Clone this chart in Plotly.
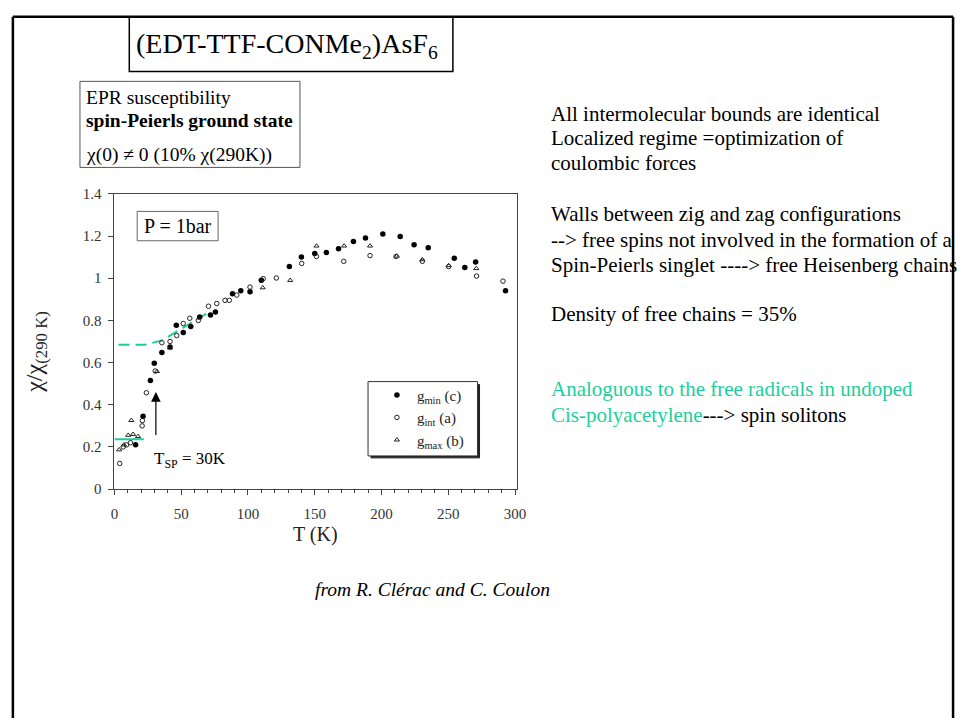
import plotly.graph_objects as go

W, H = 967, 726

# ---- data ----
T_min = [15.8, 21.4, 26.9, 29.8, 35.5, 41.6, 46.3, 51.5, 57.1, 63.8, 71.9, 75.6, 88.4, 94.6,
         101.5, 110, 131, 140, 150, 158.7, 167.8, 179, 188, 201, 214, 224.4, 235, 254.5,
         262.4, 270.5, 292.9]
chi_min = [0.21, 0.346, 0.515, 0.597, 0.648, 0.674, 0.777, 0.742, 0.771, 0.816, 0.825, 0.84,
           0.926, 0.94, 0.936, 0.99, 1.055, 1.10, 1.117, 1.122, 1.14, 1.174, 1.19, 1.21, 1.198,
           1.158, 1.144, 1.094, 1.051, 1.077, 0.941]

T_int = [3.9, 6.5, 9.0, 12.0, 20.7, 20.9, 23.9, 30.5, 35.5, 41.6, 46.6, 51.5, 56.4, 62.8,
         70.4, 76.6, 82.8, 86, 91.6, 101.5, 111.4, 121.2, 140.2, 151.3, 171.7, 191.4, 210.9,
         230.6, 250.3, 271.2, 291]
chi_int = [0.122, 0.20, 0.21, 0.22, 0.30, 0.325, 0.457, 0.56, 0.694, 0.70, 0.728, 0.785, 0.81,
           0.80, 0.867, 0.88, 0.895, 0.895, 0.92, 0.958, 0.998, 1.001, 1.07, 1.103, 1.08, 1.107,
           1.103, 1.08, 1.055, 1.01, 0.986]

T_max = [3.5, 7.0, 10.3, 12.6, 13.9, 17.6, 31.8, 41.6, 111, 131.6, 151.3, 172, 191.4, 211.5,
         230.6, 250.3, 271]
chi_max = [0.187, 0.21, 0.256, 0.326, 0.26, 0.25, 0.558, 0.67, 0.955, 0.99, 1.153, 1.153,
           1.153, 1.105, 1.088, 1.06, 1.046]

# green dashed curve (free Heisenberg chains) and solid floor line
T_fit = [3, 23, 35.5, 44, 52.5, 62.6, 68.7]
chi_fit = [0.685, 0.685, 0.705, 0.737, 0.766, 0.805, 0.831]
T_floor = [0, 22]
chi_floor = [0.236, 0.236]

x_ticks = [0, 50, 100, 150, 200, 250, 300]
y_ticks = [0, 0.2, 0.4, 0.6, 0.8, 1.0, 1.2, 1.4]

T_sp = 31
chi_arrow_head, chi_arrow_tail = 0.46, 0.25

right_lines = [
    ("All intermolecular bounds are identical", 108),
    ("Localized regime =optimization of", 133),
    ("coulombic forces", 159),
    ("Walls between zig and zag configurations", 211),
    ("--&gt; free spins not involved in the formation of a", 237),
    ("Spin-Peierls singlet ----&gt; free Heisenberg chains", 263),
    ("Density of free chains = 35%", 313),
    ("<span style='color:#1ccf9a'>Analoguous to the free radicals in undoped</span>", 390),
    ("<span style='color:#1ccf9a'>Cis-polyacetylene</span>---&gt; spin solitons", 416),
]

GREEN = "#1ccf9a"
SERIF = "Liberation Serif, Times New Roman, serif"


def px(x):
    return x / W


def py(y):
    return 1 - y / H


fig = go.Figure()

fig.add_trace(go.Scatter(x=T_fit, y=chi_fit, mode="lines", showlegend=False,
                         line=dict(color=GREEN, width=2, dash="11px,6px"), hoverinfo="skip"))
fig.add_trace(go.Scatter(x=T_floor, y=chi_floor, mode="lines", showlegend=False,
                         line=dict(color=GREEN, width=2), hoverinfo="skip"))

fig.add_trace(go.Scatter(x=T_min, y=chi_min, mode="markers", name="g<sub>min</sub> (c)",
                         marker=dict(symbol="circle", size=5.5, color="black")))
fig.add_trace(go.Scatter(x=T_int, y=chi_int, mode="markers", name="g<sub>int</sub> (a)",
                         marker=dict(symbol="circle-open", size=4.5, color="#222",
                                     line=dict(width=1))))
fig.add_trace(go.Scatter(x=T_max, y=chi_max, mode="markers", name="g<sub>max</sub> (b)",
                         marker=dict(symbol="triangle-up-open", size=4.5, color="#222",
                                     line=dict(width=1))))

shapes = [
    # slide frame
    dict(type="line", xref="paper", yref="paper", x0=px(9), x1=px(9), y0=py(9), y1=py(726),
         line=dict(color="black", width=2.5)),
    dict(type="line", xref="paper", yref="paper", x0=px(9), x1=px(962), y0=py(9), y1=py(9),
         line=dict(color="black", width=2.5)),
    dict(type="line", xref="paper", yref="paper", x0=px(962), x1=px(962), y0=py(9), y1=py(726),
         line=dict(color="black", width=2.5)),
    # title box
    dict(type="rect", xref="paper", yref="paper", x0=px(127), x1=px(455), y0=py(65), y1=py(9),
         line=dict(color="black", width=1.5)),
    # EPR box
    dict(type="rect", xref="paper", yref="paper", x0=px(77), x1=px(300), y0=py(163), y1=py(75),
         line=dict(color="#555", width=1)),
    # P = 1bar box
    dict(type="rect", xref="paper", yref="paper", x0=px(135), x1=px(217), y0=py(238), y1=py(208),
         line=dict(color="#666", width=1)),
    # legend frame with shadow
    dict(type="rect", xref="paper", yref="paper", x0=px(372), x1=px(482), y0=py(460), y1=py(385),
         line=dict(color="#222", width=1), fillcolor="#222", layer="above"),
    dict(type="rect", xref="paper", yref="paper", x0=px(369), x1=px(480), y0=py(458), y1=py(382),
         line=dict(color="#333", width=1), fillcolor="white", layer="above"),
]

annotations = [
    dict(text="(EDT-TTF-CONMe<sub>2</sub>)AsF<sub>6</sub>", x=px(287), y=py(38),
         font=dict(size=28, family=SERIF, color="black")),
    dict(text="EPR susceptibility", x=px(81), y=py(92), xanchor="left",
         font=dict(size=19.5, family=SERIF, color="black")),
    dict(text="<b>spin-Peierls ground state</b>", x=px(81), y=py(115), xanchor="left",
         font=dict(size=19.5, family=SERIF, color="black")),
    dict(text="χ(0) ≠ 0 (10% χ(290K))", x=px(81), y=py(150), xanchor="left",
         font=dict(size=19.5, family=SERIF, color="black")),
    dict(text="P = 1bar", x=px(176), y=py(223),
         font=dict(size=20, family=SERIF, color="black")),
    dict(text="T<sub>SP</sub> = 30K", x=px(150), y=py(462), xanchor="left",
         font=dict(size=17, family=SERIF, color="black")),
    dict(text="T (K)", x=px(316), y=py(538),
         font=dict(size=20, family=SERIF, color="#222")),
    dict(text="χ/χ<sub>(290 K)</sub>", x=px(33), y=py(352), textangle=-90,
         font=dict(size=24, family=SERIF, color="#222")),
    dict(text="<i>from R. Clérac and C. Coulon</i>", x=px(434), y=py(595),
         font=dict(size=19.5, family=SERIF, color="black")),
    # T_SP arrow
    dict(text="", x=T_sp, y=chi_arrow_head, ax=T_sp, ay=chi_arrow_tail, xref="x", yref="y",
         axref="x", ayref="y", showarrow=True, arrowhead=2, arrowsize=1.6, arrowwidth=1.2,
         arrowcolor="black"),
]
for txt, yy in right_lines:
    annotations.append(dict(text=txt, x=px(552), y=py(yy), xanchor="left",
                            font=dict(size=21, family=SERIF, color="black")))
for a in annotations:
    a.setdefault("xref", "paper")
    a.setdefault("yref", "paper")
    a.setdefault("showarrow", False)
    a.setdefault("xanchor", "center")
    a.setdefault("yanchor", "middle")

fig.update_layout(
    width=W, height=H, margin=dict(l=0, r=0, t=0, b=0),
    paper_bgcolor="white", plot_bgcolor="white",
    shapes=shapes, annotations=annotations,
    showlegend=True,
    legend=dict(x=px(378), y=py(379), xanchor="left", yanchor="top",
                bgcolor="rgba(0,0,0,0)", borderwidth=0,
                font=dict(size=15, family=SERIF, color="#222")),
    xaxis=dict(domain=[px(112), px(520)], range=[0, 301.5], tickvals=x_ticks,
               showgrid=False, zeroline=False, showline=True, linecolor="#444", linewidth=1,
               mirror=True, ticks="outside", ticklen=5, tickcolor="#444", ticklabelstandoff=6,
               minor=dict(dtick=10, ticks="outside", ticklen=3, tickcolor="#444"),
               tickfont=dict(size=15, family=SERIF, color="#333")),
    yaxis=dict(domain=[py(492), py(190)], range=[0, 1.4], tickvals=y_ticks,
               ticktext=[("%g" % v) for v in y_ticks],
               showgrid=False, zeroline=False, showline=True, linecolor="#444", linewidth=1,
               mirror=True, ticks="outside", ticklen=5, tickcolor="#444", ticklabelstandoff=4,
               tickfont=dict(size=15, family=SERIF, color="#333")),
)

fig.write_html("out.html",
               post_script="document.body.style.margin='0';document.body.style.overflow='hidden';")
